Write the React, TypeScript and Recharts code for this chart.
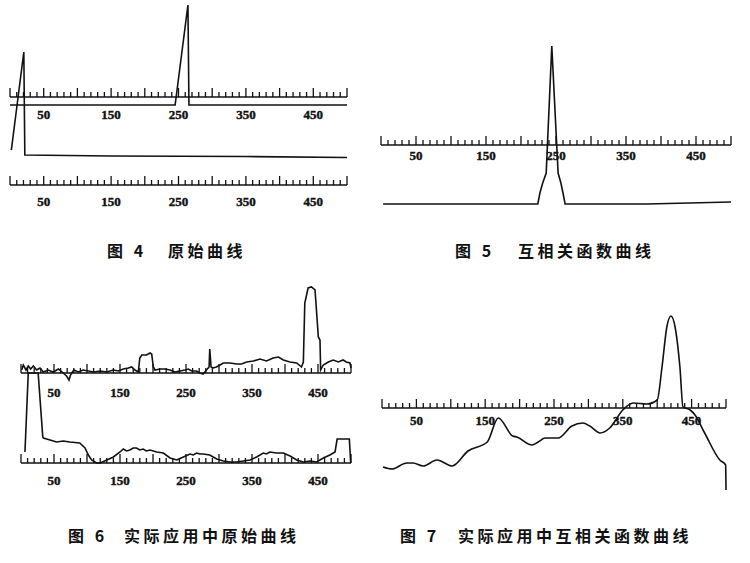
import React from "react";
import { LineChart, Line, XAxis, YAxis } from "recharts";

const INK = "#111";

// ruler: a tick every 10, tall tick every 50, labels on the odd fifties
const rulerTicks = Array.from({ length: 51 }, (_, i) => i * 10);
const labelTicks = [50, 150, 250, 350, 450];

// fig 4 raw curves (x, amplitude)
const raw4Top = [[0, 0], [245, 0], [264, 100], [265.5, 0], [500, 0]];
const raw4Bottom = [[2, 8], [20.5, 106], [22, 3], [150, 2], [350, 1.5], [500, 0.5]];

// fig 5 cross-correlation
const corr5 = [
  [3, 1], [224, 1], [227, 12], [231, 22], [236, 32], [244, 159], [253, 32],
  [257, 22], [260, 12], [263, 1], [380, 1], [440, 2], [500, 3],
];

// fig 6 raw curves from the field
const raw6Top = [
  [1, 12], [3.5, 17], [7.6, 12], [11, 16], [14.6, 13], [18.7, 16], [23.7, 12], [28.8, 14],
  [33.8, 10], [41, 12], [49, 10], [56.6, 13], [64, 9], [69, 6], [72.7, 2], [75, 7], [80, 12],
  [87, 10], [94, 12], [102, 11], [110, 10], [120, 11], [130, 10], [140, 12], [147.5, 11],
  [155, 13], [162.6, 14], [167.7, 15], [172.7, 12], [177.8, 10], [180, 24], [183, 27],
  [190, 27], [195.5, 29], [198, 28], [200.5, 15], [203, 12], [210.6, 13], [218, 13],
  [225.8, 12], [233, 10], [241, 11], [248.5, 12], [253.5, 13], [258.6, 11], [266, 11],
  [271, 9], [276, 8], [281, 12], [285, 15], [286, 33], [288, 15], [291, 14], [296, 15],
  [301.5, 17], [306.6, 19], [316.7, 19], [326.8, 18], [334, 18], [342, 20], [352, 21],
  [362, 23], [372, 21], [382, 24], [390, 25], [397.5, 22], [407.6, 20], [417.7, 19],
  [425, 15], [427.8, 20], [430, 79], [435, 94], [440, 95], [445.5, 92], [450.5, 45],
  [453, 42], [454, 12], [458, 17], [465.7, 20], [473, 22], [480.8, 20], [488, 22],
  [493, 20], [498.5, 19], [500, 14],
];
const raw6Bottom = [
  [6, 13], [11, 92], [12.6, 92], [26, 92], [33, 28], [34, 27], [44, 25], [54, 23], [64, 24],
  [74, 23], [89, 22], [97, 17], [102, 10], [107, 5], [114.6, 2], [120, 2], [130, 5],
  [140, 8], [150, 13], [155, 16], [160, 14], [165, 15], [170, 17], [175, 17], [180, 15],
  [185, 16], [190, 14], [195.5, 15], [205.6, 13], [215.7, 12], [225.8, 7], [236, 5],
  [246, 8], [256, 11], [261, 10], [266, 12], [271, 11], [276, 11], [286, 10], [296.5, 6],
  [306.6, 4], [316.7, 3], [326.8, 3], [337, 4], [347, 5], [357, 8], [367, 12], [372, 11],
  [377, 13], [387, 12], [397.5, 12], [407.6, 9], [417.7, 5], [427.8, 3], [438, 4],
  [448, 3], [458, 7], [468, 10], [475.8, 13], [479, 26], [488, 26], [497.5, 26], [499.5, 2],
];

// fig 7 cross-correlation from the field
const corr7 = [
  [1.5, 24], [14.5, 22], [36, 28], [45, 28], [60, 25], [80, 31], [102, 25], [125, 40],
  [153, 49], [169, 73], [190, 55], [196, 54], [218, 46], [227, 49], [237, 53], [256, 53],
  [276, 65], [292, 68], [302, 65], [317, 58], [331, 63], [350, 81], [365, 88], [385, 87],
  [400, 91], [407, 124], [414, 164], [420, 175], [426, 164], [433, 124], [437.5, 84],
  [448, 81], [455, 76], [469, 58], [491, 31], [499.5, 26], [500, 1],
];

const captions = [
  { no: "图 4", title: "原始曲线", noX: 107, titleX: 168, y: 240 },
  { no: "图 5", title: "互相关函数曲线", noX: 455, titleX: 518, y: 240 },
  { no: "图 6", title: "实际应用中原始曲线", noX: 68, titleX: 124, y: 525 },
  { no: "图 7", title: "实际应用中互相关函数曲线", noX: 400, titleX: 458, y: 525 },
];

const toRows = (pts: number[][]) => pts.map(([x, y]) => ({ x, y }));

const RulerTick = (props: any) => {
  const { x, y, payload, labelDy } = props;
  const v = payload.value;
  const len = v % 50 === 0 ? 9 : 5;
  return (
    <g>
      <line x1={x} y1={y} x2={x} y2={y - len} stroke={INK} strokeWidth={1.3} />
      {labelTicks.includes(v) && (
        <text
          x={x}
          y={y + labelDy}
          textAnchor="middle"
          fontFamily="'Liberation Serif', serif"
          fontWeight="bold"
          fontSize={13}
          fill={INK}
          stroke={INK}
          strokeWidth={0.4}
        >
          {v}
        </text>
      )}
    </g>
  );
};

type Box = { left: number; top: number; width: number; height: number };

// one curve with its own ruler; positions are page pixels
const Trace = ({ box, x0, x1, axisY, topY, baseY, peak, points, labelDy, curve = "linear" }: any) => {
  const b = box as Box;
  const axisH = 30;
  return (
    <div style={{ position: "absolute", left: b.left, top: b.top }}>
      <LineChart
        width={b.width}
        height={b.height}
        data={toRows(points)}
        margin={{
          left: x0 - b.left,
          right: b.left + b.width - x1,
          top: topY - b.top,
          bottom: b.top + b.height - axisY - axisH,
        }}
      >
        <XAxis
          type="number"
          dataKey="x"
          domain={[0, 500]}
          ticks={rulerTicks}
          interval={0}
          tickSize={0}
          tickMargin={0}
          tickLine={false}
          axisLine={{ stroke: INK, strokeWidth: 1.6 }}
          height={axisH}
          tick={(p: any) => <RulerTick {...p} labelDy={labelDy} />}
        />
        <YAxis hide type="number" domain={[0, peak]} padding={{ top: 0, bottom: axisY - baseY }} />
        <Line
          dataKey="y"
          type={curve}
          stroke={INK}
          strokeWidth={1.6}
          dot={false}
          isAnimationActive={false}
        />
      </LineChart>
    </div>
  );
};

const topLeft = { left: 0, top: 0, width: 360, height: 230 };
const topRight = { left: 370, top: 0, width: 380, height: 230 };
const botLeft = { left: 0, top: 270, width: 360, height: 230 };
const botRight = { left: 370, top: 270, width: 380, height: 230 };

const App = () => {
  return (
    <div style={{ position: "absolute", left: 0, top: 0, width: 750, height: 563, background: "#fff" }}>
      <Trace box={topLeft} x0={10} x1={347} axisY={97} topY={5} baseY={105} peak={100} points={raw4Top} labelDy={22} />
      <Trace box={topLeft} x0={10} x1={347} axisY={185} topY={52} baseY={158} peak={106} points={raw4Bottom} labelDy={21} />
      <Trace box={topRight} x0={381} x1={731} axisY={145} topY={46} baseY={205} peak={159} points={corr5} labelDy={15} />
      <Trace box={botLeft} x0={21} x1={351} axisY={373} topY={286} baseY={382} peak={96} points={raw6Top} labelDy={24} />
      <Trace box={botLeft} x0={21} x1={351} axisY={463} topY={372} baseY={465} peak={93} points={raw6Bottom} labelDy={22} />
      <Trace box={botRight} x0={382} x1={726} axisY={408} topY={315} baseY={491} peak={176} points={corr7} labelDy={17} curve="monotone" />
      {captions.map((c) => (
        <React.Fragment key={c.no}>
          <div style={capStyle(c.noX, c.y)}>{c.no}</div>
          <div style={capStyle(c.titleX, c.y)}>{c.title}</div>
        </React.Fragment>
      ))}
    </div>
  );
};

const capStyle = (left: number, top: number): React.CSSProperties => ({
  position: "absolute",
  left,
  top,
  fontFamily: "'Noto Sans CJK SC', sans-serif",
  fontWeight: "bold",
  fontSize: 16,
  letterSpacing: 3.5,
  lineHeight: "20px",
  color: INK,
  whiteSpace: "nowrap",
});

export default App;
